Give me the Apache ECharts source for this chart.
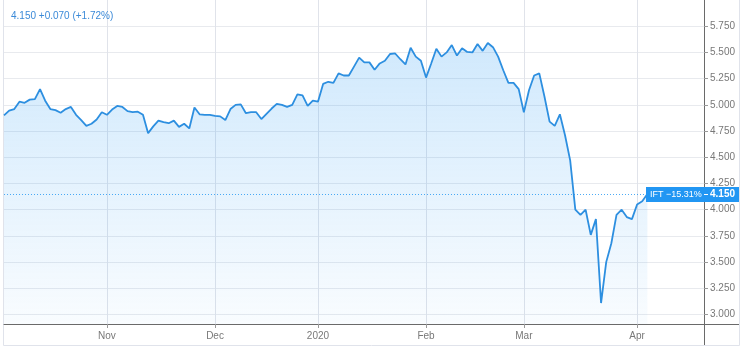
<!DOCTYPE html>
<html>
<head>
<meta charset="utf-8">
<script src="https://cdn.jsdelivr.net/npm/echarts@6/dist/echarts.min.js"></script>
<style>
html, body {margin: 0; padding: 0; background: #fff;}
#chart {width: 745px; height: 350px;}
</style>
</head>
<body>
<div id="chart"></div>
<script>
// closing prices, one per trading day (late Oct 2019 .. early Apr 2020)
var prices = [
    4.90, 4.945, 4.96, 5.03, 5.02, 5.05, 5.055, 5.15, 5.04, 4.96,
    4.95, 4.925, 4.96, 4.98, 4.905, 4.855, 4.80, 4.82, 4.86, 4.93,
    4.905, 4.955, 4.99, 4.98, 4.94, 4.93, 4.935, 4.905, 4.73, 4.795,
    4.85, 4.835, 4.825, 4.85, 4.79, 4.82, 4.775, 4.975, 4.91, 4.905,
    4.905, 4.895, 4.89, 4.855, 4.96, 5.00, 5.005, 4.92, 4.93, 4.93,
    4.865, 4.915, 4.965, 5.01, 5.00, 4.98, 5.00, 5.10, 5.09, 4.99,
    5.04, 5.03, 5.20, 5.22, 5.21, 5.30, 5.28, 5.28, 5.365, 5.45,
    5.405, 5.405, 5.335, 5.395, 5.42, 5.485, 5.49, 5.435, 5.385, 5.545,
    5.46, 5.42, 5.26, 5.395, 5.535, 5.46, 5.50, 5.57, 5.47, 5.54,
    5.505, 5.50, 5.58, 5.515, 5.59, 5.55, 5.46, 5.33, 5.21, 5.21,
    5.15, 4.93, 5.14, 5.28, 5.30, 5.08, 4.84, 4.80, 4.91, 4.71,
    4.47, 4.00, 3.95, 4.00, 3.76, 3.91, 3.11, 3.50, 3.68, 3.95,
    4.00, 3.93, 3.91, 4.05, 4.08, 4.15
];

// time scale: trading-day slots, month labels at the first day of each month
var slotCount = 137;
var monthNames = ['Nov', 'Dec', '2020', 'Feb', 'Mar', 'Apr'];
var monthIndex = [20, 41, 61, 82, 101, 123];

var priceTicks = [3.0, 3.25, 3.5, 3.75, 4.0, 4.25, 4.5, 4.75, 5.0, 5.25, 5.5, 5.75];

var lastPrice = 4.150;
var headline = '4.150 +0.070 (+1.72%)';
var symbolChange = 'IFT \u221215.31%';

var categories = [];
for (var i = 0; i < slotCount; i++) {
    categories.push('');
}
for (var m = 0; m < monthIndex.length; m++) {
    categories[monthIndex[m]] = monthNames[m];
}

var isMonth = function (index, value) {
    return value !== '';
};

var font = 'Liberation Sans, Arial, sans-serif';
var lineBlue = '#2d8fe0';

var myChart = echarts.init(document.getElementById('chart'));
var option = {
    animation: false,
    title: {
        text: headline,
        left: 6,
        top: 6,
        textStyle: {color: '#3b8ad8', fontSize: 10, fontWeight: 'normal', fontFamily: font}
    },
    grid: {left: 4, right: 41, top: 0, bottom: 26},
    xAxis: {
        type: 'category',
        data: categories,
        boundaryGap: false,
        axisLine: {lineStyle: {color: '#6a6a6a', width: 1}},
        axisTick: {show: true, interval: isMonth, length: 4, lineStyle: {color: '#9a9a9a'}},
        axisLabel: {interval: isMonth, margin: 7, color: '#787878', fontSize: 10, fontFamily: font},
        splitLine: {show: true, interval: isMonth, lineStyle: {color: '#e0e3ea'}}
    },
    yAxis: {
        type: 'value',
        position: 'right',
        min: 2.91,
        max: 6.0,
        axisLine: {show: true, lineStyle: {color: '#6a6a6a', width: 1}},
        axisTick: {show: true, length: 4, customValues: priceTicks, lineStyle: {color: '#9a9a9a'}},
        axisLabel: {
            customValues: priceTicks,
            margin: 6,
            color: '#787878',
            fontSize: 10,
            fontFamily: font,
            formatter: function (v) {
                return v.toFixed(3);
            }
        },
        splitLine: {show: true, lineStyle: {color: '#e8eaee'}}
    },
    series: [
        {
            type: 'line',
            data: prices,
            symbol: 'none',
            lineStyle: {color: lineBlue, width: 1.8},
            areaStyle: {
                origin: 'start',
                color: new echarts.graphic.LinearGradient(0, 0, 0, 1, [
                    {offset: 0, color: 'rgba(33,150,243,0.3)'},
                    {offset: 1, color: 'rgba(33,150,243,0.04)'}
                ])
            },
            markLine: {
                silent: true,
                symbol: 'none',
                label: {show: false},
                lineStyle: {color: '#2196f3', type: [1, 2], width: 1, opacity: 0.8},
                data: [{yAxis: lastPrice}]
            }
        }
    ]
};
myChart.setOption(option);

// last-price badge and the frame round the chart
var yLast = Math.round(myChart.convertToPixel({yAxisIndex: 0}, lastPrice));
var axisX = 704;
var axisY = 324;
myChart.setOption({
    graphic: [
        {
            type: 'polyline',
            silent: true,
            shape: {points: [[3.5, 0], [3.5, 345.5], [739.5, 345.5], [739.5, 0]]},
            style: {stroke: '#e0e3eb', fill: null, lineWidth: 1}
        },
        {
            type: 'line',
            silent: true,
            shape: {x1: axisX, y1: axisY + 0.5, x2: 739, y2: axisY + 0.5},
            style: {stroke: '#6a6a6a', lineWidth: 1}
        },
        {
            type: 'line',
            silent: true,
            shape: {x1: axisX + 0.5, y1: axisY, x2: axisX + 0.5, y2: 345},
            style: {stroke: '#6a6a6a', lineWidth: 1}
        },
        {
            type: 'rect',
            silent: true,
            z: 100,
            shape: {x: 646, y: yLast - 7, width: 93, height: 15},
            style: {fill: '#2196f3'}
        },
        {
            type: 'text',
            silent: true,
            z: 101,
            x: 650,
            y: yLast + 0.5,
            style: {text: symbolChange, fill: '#fff', font: '9px ' + font, verticalAlign: 'middle'}
        },
        {
            type: 'line',
            silent: true,
            z: 101,
            shape: {x1: axisX, y1: yLast + 0.5, x2: axisX + 4, y2: yLast + 0.5},
            style: {stroke: '#fff', lineWidth: 1}
        },
        {
            type: 'text',
            silent: true,
            z: 101,
            x: 710,
            y: yLast + 0.5,
            style: {text: lastPrice.toFixed(3), fill: '#fff', font: 'bold 10px ' + font, verticalAlign: 'middle'}
        }
    ]
});
</script>
</body>
</html>
